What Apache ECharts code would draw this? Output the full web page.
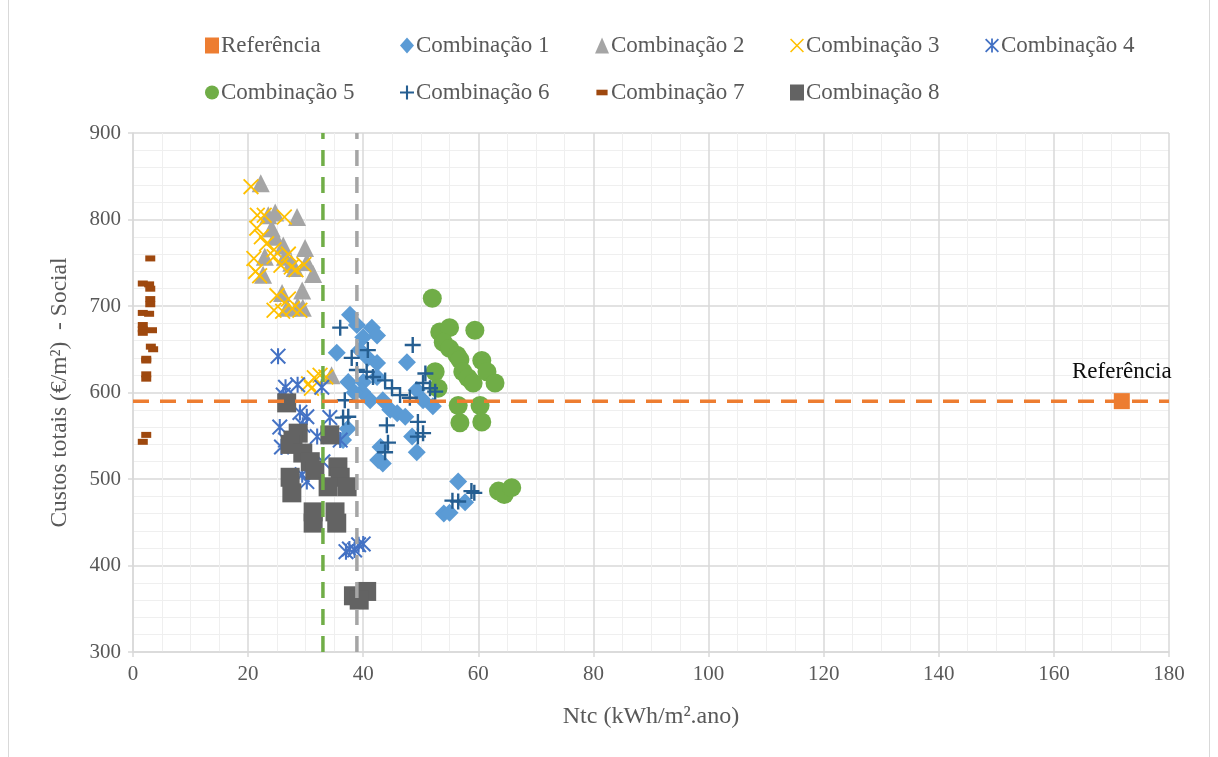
<!DOCTYPE html>
<html>
<head>
<meta charset="utf-8">
<script src="https://cdn.jsdelivr.net/npm/echarts@6/dist/echarts.min.js"></script>
<style>
  html, body { margin: 0; padding: 0; background: #fff; }
  #chart { width: 1218px; height: 757px; }
</style>
</head>
<body>
<div id="chart"></div>
<script>
// ---- Data (Ntc kWh/m².ano , Custos totais €/m²) ----
const seriesNames = ['Referência', 'Combinação 1', 'Combinação 2', 'Combinação 3', 'Combinação 4',
                     'Combinação 5', 'Combinação 6', 'Combinação 7', 'Combinação 8'];

const referencia = [[171.8, 590]];

const combo1 = [[37.7,690],[38.9,678],[41.5,675],[42.4,666],[40,664],[35.4,646],[39.4,649],[40.8,640],
  [42.4,634],[47.6,635],[37.4,612],[40,612],[42.4,618],[41.2,591],[43.4,591],[39.8,601],[49.3,603],
  [50.4,591],[52.1,584],[44.7,580],[45.9,576],[47.3,572],[36.5,545],[37.3,558],[48.5,549],[43,537],
  [49.3,531],[43.4,518],[42.6,522],[56.5,497],[57.7,473],[54,460],[55,461],[38.5,600]];

const combo2 = [[22.2,842],[23.5,805],[24.7,808],[28.5,803],[24.1,790],[24.7,780],[26.1,770],[29.9,767],
  [22.9,757],[26.4,757],[27.5,750],[30.2,751],[28.1,744],[22.6,736],[31.3,737],[29.4,718],[25.9,715],
  [26.8,698],[28.6,700],[29.5,698],[34.5,620]];

const combo3 = [[20.5,838],[21.6,805],[22.8,805],[26.3,803],[21.5,790],[22.3,780],[23.2,772],[24.5,765],
  [27,760],[21,755],[24.5,757],[25.7,747],[27.5,745],[28.3,742],[29.7,748],[21.3,740],[22,735],[25,712],
  [27,708],[24.5,695],[26,694],[27.7,697],[29,695],[30.5,610],[31.5,617],[32.5,620],[31,605],[33.5,618]];

const combo4 = [[25.2,642],[26.5,606],[28.6,609],[32.8,606],[26.1,597],[29,577],[30.2,572],[34.2,571],
  [25.5,560],[29.5,562],[25.8,537],[26.5,545],[32,549],[36,545],[30.2,497],[29.4,505],[33,520],
  [37,416],[37.6,419],[38.5,418],[39.2,424],[40,425]];

const combo5 = [[52,709],[53.3,670],[55,675],[59.4,672],[53.9,658],[55,651],[56.3,643],[56.8,638],
  [60.6,637],[57.3,624],[58.2,617],[59.1,611],[61.5,624],[62.9,611],[52.5,624],[53,605],[56.5,585],
  [60.3,585],[56.8,565],[60.6,566],[63.5,486],[64.5,482],[65.8,490]];

const combo6 = [[36,675],[40.8,649],[48.6,655],[38,640],[38.9,626],[40.6,624],[41.7,618],[43.8,614],
  [45,605],[46.4,597],[48.1,594],[50.4,611],[51.6,605],[52.5,601],[50.8,622],[36.8,591],[37.4,572],
  [36.5,571],[44.1,562],[49.5,566],[50.4,553],[49.5,549],[44.3,542],[43.8,531],[55.5,475],[56.5,474],
  [58.8,486],[59.3,484]];

const combo7 = [[3.0,755],[1.7,726],[2.8,725],[3.0,720],[3.0,708],[3.0,702],[1.7,692],[2.8,691],
  [1.7,678],[1.7,673],[1.7,669],[3.3,672],[3.1,653],[3.5,650],[2.3,639],[2.3,637],[2.3,621],[2.3,616],
  [2.3,551],[1.7,543]];

const combo8 = [[26.7,588],[28.7,553],[27.8,545],[27.3,540],[34.2,551],[29.5,530],[30.8,520],[31.6,510],
  [27.3,502],[35.6,514],[36,502],[37.2,491],[33.9,491],[27.6,484],[31.3,462],[35.1,462],[31.3,449],
  [35.4,449],[38.3,365],[40.6,370],[39.3,360]];

// Reference lines
const greenLineX = 33.0;
const grayLineX = 38.9;
const refLineY = 590;

// Axis ranges / ticks
const xMin = 0, xMax = 180, xStep = 20;
const yMin = 300, yMax = 900, yStep = 100;

// ---- Styling ----
const FONT = '"Liberation Serif", "Times New Roman", serif';
const colors = ['#ED7D31', '#5B9BD5', '#A5A5A5', '#FFC000', '#4472C4', '#70AD47', '#255E91', '#9E480E', '#636363'];

const xPath = 'path://M0,0.8L0.8,0L10,9.2L9.2,10Z M9.2,0L10,0.8L0.8,10L0,9.2Z';
const astPath = 'path://M0,0.9L0.9,0L10,9.1L9.1,10Z M9.1,0L10,0.9L0.9,10L0,9.1Z M4.35,0H5.65V10H4.35Z';
const plusPath = 'path://M4.25,0H5.75V10H4.25Z M0,4.25H10V5.75H0Z';
const dashPath = 'path://M0,0M10,10M1,3H9V7H1Z';

const dataSets = [referencia, combo1, combo2, combo3, combo4, combo5, combo6, combo7, combo8];
const symbols = ['rect', 'diamond', 'triangle', xPath, astPath, 'circle', plusPath, 'rect', 'rect'];
const sizes = [16, 18, 18, 16, 16, 19, 16, [10, 6], 19];

const scatterSeries = dataSets.map((d, i) => {
  const s = {
    name: seriesNames[i],
    type: 'scatter',
    data: d,
    symbol: symbols[i],
    symbolSize: sizes[i],
    itemStyle: { color: colors[i], opacity: 1 },
    z: 3 + i * 0.01
  };
  if (i === 0) {
    s.label = { show: true, position: 'top', distance: 10, formatter: seriesNames[0],
      fontFamily: FONT, fontSize: 23, color: '#0D0D0D' };
    s.z = 4;
  }
  return s;
});

const lineSeries = [
  { data: [[greenLineX, yMin], [greenLineX, yMax]], color: '#70AD47' },
  { data: [[grayLineX, yMin], [grayLineX, yMax]], color: '#A5A5A5' },
  { data: [[xMin, refLineY], [xMax, refLineY]], color: '#ED7D31' }
].map(l => ({
  type: 'line', data: l.data, symbol: 'none', silent: true, z: 5,
  lineStyle: { color: l.color, width: 3.5, type: [16, 11] }
}));

const legendIcons = ['rect', 'diamond', 'triangle', xPath, astPath, 'circle', plusPath, dashPath, 'rect'];
const legendLayout = [[0, 0], [1, 0], [2, 0], [3, 0], [4, 0], [0, 1], [1, 1], [2, 1], [3, 1]];
const legends = seriesNames.map((n, i) => ({
  top: 29 + legendLayout[i][1] * 47,
  left: 200 + legendLayout[i][0] * 195,
  itemWidth: 14, itemHeight: 16, itemGap: 0,
  data: [{ name: n, icon: legendIcons[i] }],
  textStyle: { fontFamily: FONT, fontSize: 23, color: '#595959', padding: [0, 0, 0, -3] },
  selectedMode: false
}));

const axisCommon = {
  axisLine: { show: true, lineStyle: { color: '#D9D9D9', width: 1.5 } },
  axisTick: { show: true, length: 5, lineStyle: { color: '#D9D9D9', width: 1.5 } },
  axisLabel: { fontFamily: FONT, fontSize: 21, color: '#595959', margin: 12 },
  splitLine: { show: true, lineStyle: { color: '#D9D9D9', width: 1.5 } },
  minorSplitLine: { show: true, lineStyle: { color: '#EFEFEF', width: 1 } },
  nameTextStyle: { fontFamily: FONT, fontSize: 24, color: '#595959' },
  nameLocation: 'middle'
};

const chart = echarts.init(document.getElementById('chart'), null, { renderer: 'canvas' });
chart.setOption({
  animation: false,
  backgroundColor: '#fff',
  color: colors,
  graphic: [
    { type: 'line', shape: { x1: 8.5, y1: 0, x2: 8.5, y2: 757 }, style: { stroke: '#D9D9D9', lineWidth: 1 } },
    { type: 'line', shape: { x1: 1209.5, y1: 0, x2: 1209.5, y2: 757 }, style: { stroke: '#D9D9D9', lineWidth: 1 } }
  ],
  legend: legends,
  grid: { left: 133, right: 49, top: 133, bottom: 105, containLabel: false },
  xAxis: Object.assign({}, axisCommon, {
    type: 'value', min: xMin, max: xMax, interval: xStep,
    name: 'Ntc (kWh/m².ano)', nameGap: 53,
    minorTick: { show: false, splitNumber: 4 }
  }),
  yAxis: Object.assign({}, axisCommon, {
    type: 'value', min: yMin, max: yMax, interval: yStep,
    name: 'Custos totais (€/m²)  - Social', nameGap: 61,
    nameTextStyle: { fontFamily: FONT, fontSize: 23.5, color: '#595959' },
    minorTick: { show: false, splitNumber: 5 }
  }),
  series: scatterSeries.concat(lineSeries)
});
</script>
</body>
</html>
